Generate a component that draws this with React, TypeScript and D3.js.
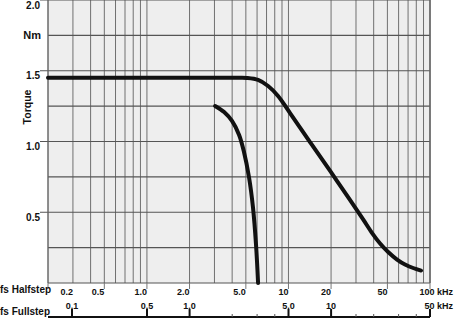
import React from "react";
import * as d3 from "d3";

// Pull-out torque curve (halfstep frequency kHz, torque Nm)
const pullOutFreq = [0.2, 0.6, 1.5, 3.0, 4.3, 5.1, 6.1, 7.18, 8.44, 10.26, 14.2, 19.7, 27.2, 33.7, 39.0, 44.4, 50.6, 58.5, 66.6, 76.0, 86.5];
const pullOutTorque = [1.45, 1.45, 1.45, 1.45, 1.45, 1.449, 1.435, 1.392, 1.322, 1.201, 0.996, 0.792, 0.587, 0.449, 0.353, 0.279, 0.219, 0.166, 0.131, 0.106, 0.088];

// Pull-in torque curve
const pullInFreq = [3.03, 3.51, 3.99, 4.48, 4.85, 5.26, 5.62, 5.9, 6.1];
const pullInTorque = [1.251, 1.208, 1.145, 1.046, 0.926, 0.749, 0.53, 0.269, 0.0];

const yTicks = [0.5, 1.0, 1.5, 2.0];
const yTickLabels = ["0.5", "1.0", "1.5", "2.0"];
const halfTicks = [0.2, 0.5, 1, 2, 5, 10, 20, 50, 100];
const halfTickLabels = ["0.2", "0.5", "1.0", "2.0", "5.0", "10", "20", "50", "100 kHz"];
const fullTicks = [0.1, 0.5, 1, 5, 10, 50];
const fullTickLabels = ["0.1", "0.5", "1.0", "5.0", "10", "50 kHz"];
const fullMinorTicks = [2, 3, 4, 15, 20, 30, 40];

const W = 454;
const H = 319;
const L = 48;
const R = 430;
const T = 0;
const B = 283;
const FONT = "'Liberation Sans', Arial, sans-serif";

export default function App() {
  const x = d3.scaleLog().domain([0.2, 100]).range([L, R]);
  const y = d3.scaleLinear().domain([0, 2]).range([B, T]);
  const xf = d3.scaleLog().domain([0.1, 0.5, 50]).range([72, 147, R]);

  const vGrid = x.ticks();
  const hGrid = d3.range(0, 2.0001, 0.25);

  const line = d3
    .line<[number, number]>()
    .x((d) => x(d[0]))
    .y((d) => y(d[1]))
    .curve(d3.curveCatmullRom.alpha(0.5));

  const pullOut = line(pullOutFreq.map((f, i) => [f, pullOutTorque[i]]) as [number, number][]) || "";
  const pullIn = line(pullInFreq.map((f, i) => [f, pullInTorque[i]]) as [number, number][]) || "";

  const fullY = 317;

  return (
    <svg
      width={W}
      height={H}
      style={{ position: "fixed", left: 0, top: 0, background: "#fff" }}
      fontFamily={FONT}
      fontWeight="bold"
    >
      <rect x={L} y={T} width={R - L} height={B - T} fill="#eeeeee" />
      {vGrid.map((v, i) => (
        <line key={"v" + i} x1={x(v)} x2={x(v)} y1={T} y2={B} stroke="#707070" strokeWidth={1} />
      ))}
      {hGrid.map((v, i) => {
        const major = Math.abs(v * 2 - Math.round(v * 2)) < 1e-6 && v > 0;
        return (
          <line
            key={"h" + i}
            x1={major ? 40 : L}
            x2={R}
            y1={y(v)}
            y2={y(v)}
            stroke="#555"
            strokeWidth={1.2}
          />
        );
      })}
      <line x1={L} x2={L} y1={T} y2={B} stroke="#666" strokeWidth={1} />
      <line x1={R} x2={R} y1={T} y2={B} stroke="#666" strokeWidth={1.5} />
      {halfTicks.map((v, i) => (
        <line key={"ht" + i} x1={x(v)} x2={x(v)} y1={B} y2={B + 6} stroke="#777" strokeWidth={1} />
      ))}

      <path d={pullOut} fill="none" stroke="#111" strokeWidth={4} strokeLinecap="round" />
      <path d={pullIn} fill="none" stroke="#111" strokeWidth={4} strokeLinecap="round" />

      {yTicks.map((v, i) => (
        <text key={"yl" + i} x={40} y={y(v) + 8.5} textAnchor="end" fontSize={10} fill="#111">
          {yTickLabels[i]}
        </text>
      ))}
      <text x={41} y={39} textAnchor="end" fontSize={11} fill="#111">
        Nm
      </text>
      <text
        transform={`translate(31,107) rotate(-90)`}
        textAnchor="middle"
        fontSize={10.5}
        fill="#111"
      >
        Torque
      </text>

      <text x={0} y={293} fontSize={10} fill="#111">
        fs Halfstep
      </text>
      <text x={0} y={315} fontSize={10} fill="#111">
        fs Fullstep
      </text>

      {halfTicks.map((v, i) => {
        const last = i === halfTicks.length - 1;
        const px = last ? 453 : Math.max(x(v), 73);
        return (
          <text key={"hl" + i} x={px} y={295} textAnchor="end" fontSize={9} fill="#111">
            {halfTickLabels[i]}
          </text>
        );
      })}

      <line x1={L} x2={R} y1={fullY} y2={fullY} stroke="#111" strokeWidth={2} />
      {fullTicks.map((v, i) => (
        <line key={"ft" + i} x1={xf(v)} x2={xf(v)} y1={fullY - 8} y2={fullY} stroke="#111" strokeWidth={2} />
      ))}
      {fullMinorTicks.map((v, i) => (
        <line key={"fm" + i} x1={xf(v)} x2={xf(v)} y1={fullY - 3} y2={fullY} stroke="#555" strokeWidth={1} />
      ))}
      {fullTicks.map((v, i) => {
        const last = i === fullTicks.length - 1;
        return (
          <text
            key={"fl" + i}
            x={last ? 453 : xf(v)}
            y={309}
            textAnchor={last ? "end" : "middle"}
            fontSize={9}
            fill="#111"
          >
            {fullTickLabels[i]}
          </text>
        );
      })}
    </svg>
  );
}
